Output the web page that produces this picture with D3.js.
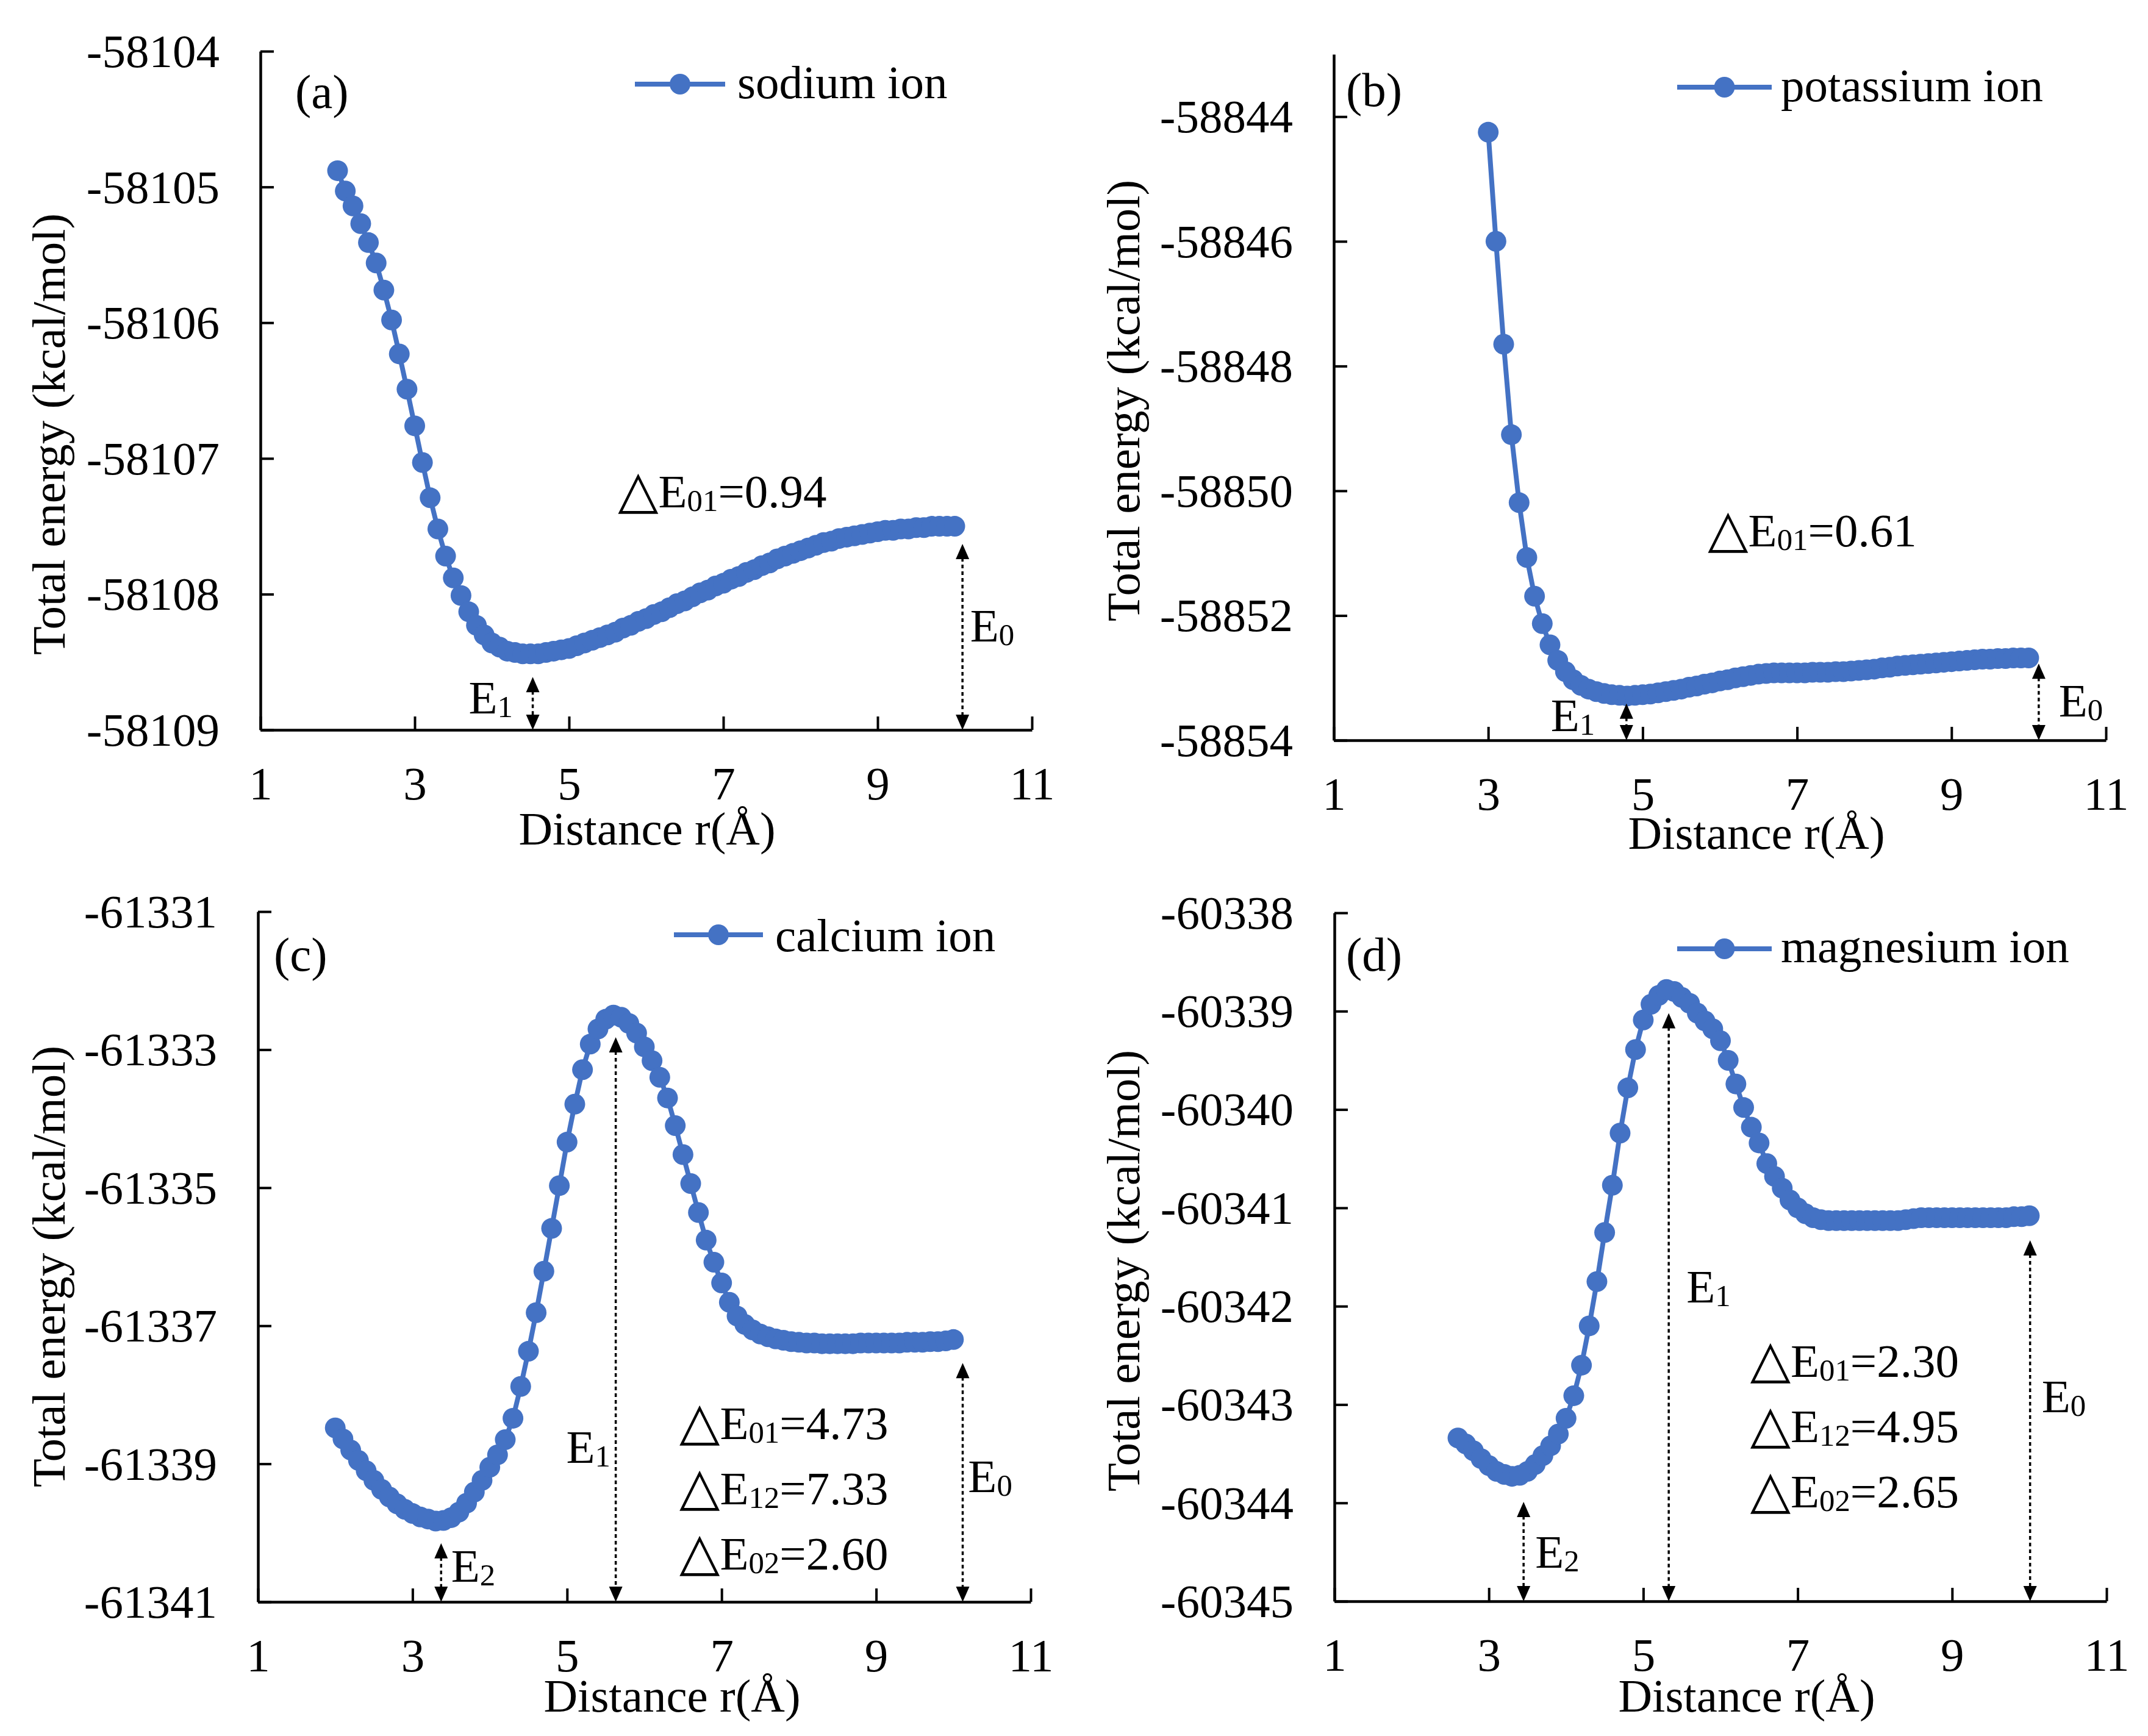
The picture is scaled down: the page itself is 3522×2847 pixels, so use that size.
<!DOCTYPE html>
<html><head><meta charset="utf-8">
<script src="https://cdn.jsdelivr.net/npm/d3@7"></script>
<style>body{margin:0;background:#fff}svg{display:block}</style>
</head><body>
<svg id="chart" width="3522" height="2847"></svg>
<script>
// ---------------- DATA ----------------
const xTickValues = [1, 3, 5, 7, 9, 11];

const sodiumR = [2.0,2.1,2.2,2.3,2.4,2.5,2.6,2.7,2.8,2.9,3.0,3.1,3.2,3.3,3.4,3.5,3.6,3.7,3.8,3.9,
  4.0,4.1,4.2,4.3,4.4,4.5,4.6,4.7,4.8,4.9,5.0,5.1,5.2,5.3,5.4,5.5,5.6,5.7,5.8,5.9,
  6.0,6.1,6.2,6.3,6.4,6.5,6.6,6.7,6.8,6.9,7.0,7.1,7.2,7.3,7.4,7.5,7.6,7.7,7.8,7.9,
  8.0,8.1,8.2,8.3,8.4,8.5,8.6,8.7,8.8,8.9,9.0,9.1,9.2,9.3,9.4,9.5,9.6,9.7,9.8,9.9,10.0];
const sodiumE = [-58104.88,-58105.03,-58105.14,-58105.27,-58105.41,-58105.56,-58105.76,-58105.98,-58106.23,-58106.49,
  -58106.76,-58107.03,-58107.29,-58107.52,-58107.72,-58107.88,-58108.01,-58108.13,-58108.23,-58108.30,
  -58108.36,-58108.39,-58108.42,-58108.43,-58108.44,-58108.44,-58108.44,-58108.43,-58108.42,-58108.41,
  -58108.40,-58108.38,-58108.36,-58108.34,-58108.32,-58108.30,-58108.28,-58108.25,-58108.23,-58108.20,
  -58108.18,-58108.15,-58108.13,-58108.10,-58108.07,-58108.05,-58108.02,-58107.99,-58107.97,-58107.94,
  -58107.92,-58107.89,-58107.87,-58107.84,-58107.82,-58107.79,-58107.77,-58107.74,-58107.72,-58107.70,
  -58107.68,-58107.66,-58107.64,-58107.62,-58107.61,-58107.59,-58107.58,-58107.57,-58107.56,-58107.55,
  -58107.54,-58107.53,-58107.53,-58107.52,-58107.52,-58107.51,-58107.51,-58107.50,-58107.50,-58107.50,-58107.50];

const potassiumR = [3.0,3.1,3.2,3.3,3.4,3.5,3.6,3.7,3.8,3.9,
  4.0,4.1,4.2,4.3,4.4,4.5,4.6,4.7,4.8,4.9,5.0,5.1,5.2,5.3,5.4,5.5,5.6,5.7,5.8,5.9,
  6.0,6.1,6.2,6.3,6.4,6.5,6.6,6.7,6.8,6.9,7.0,7.1,7.2,7.3,7.4,7.5,7.6,7.7,7.8,7.9,
  8.0,8.1,8.2,8.3,8.4,8.5,8.6,8.7,8.8,8.9,9.0,9.1,9.2,9.3,9.4,9.5,9.6,9.7,9.8,9.9,10.0];
const potassiumE = [-58844.25,-58846.00,-58847.65,-58849.10,-58850.19,-58851.07,-58851.69,-58852.13,-58852.47,-58852.72,
  -58852.90,-58853.03,-58853.12,-58853.18,-58853.22,-58853.25,-58853.27,-58853.28,-58853.29,-58853.28,
  -58853.27,-58853.26,-58853.24,-58853.22,-58853.20,-58853.18,-58853.15,-58853.13,-58853.10,-58853.08,
  -58853.05,-58853.03,-58853.00,-58852.98,-58852.96,-58852.94,-58852.93,-58852.92,-58852.92,-58852.92,
  -58852.92,-58852.92,-58852.91,-58852.91,-58852.91,-58852.90,-58852.90,-58852.89,-58852.88,-58852.87,
  -58852.86,-58852.84,-58852.83,-58852.81,-58852.80,-58852.79,-58852.78,-58852.77,-58852.76,-58852.75,
  -58852.74,-58852.73,-58852.72,-58852.71,-58852.70,-58852.70,-58852.69,-58852.69,-58852.68,-58852.68,-58852.68];

const calciumR = [2.0,2.1,2.2,2.3,2.4,2.5,2.6,2.7,2.8,2.9,3.0,3.1,3.2,3.3,3.4,3.5,3.6,3.7,3.8,3.9,
  4.0,4.1,4.2,4.3,4.4,4.5,4.6,4.7,4.8,4.9,5.0,5.1,5.2,5.3,5.4,5.5,5.6,5.7,5.8,5.9,
  6.0,6.1,6.2,6.3,6.4,6.5,6.6,6.7,6.8,6.9,7.0,7.1,7.2,7.3,7.4,7.5,7.6,7.7,7.8,7.9,
  8.0,8.1,8.2,8.3,8.4,8.5,8.6,8.7,8.8,8.9,9.0,9.1,9.2,9.3,9.4,9.5,9.6,9.7,9.8,9.9,10.0];
const calciumE = [-61338.48,-61338.64,-61338.80,-61338.95,-61339.10,-61339.24,-61339.37,-61339.48,-61339.58,-61339.66,
  -61339.72,-61339.77,-61339.80,-61339.83,-61339.82,-61339.78,-61339.70,-61339.57,-61339.41,-61339.24,
  -61339.05,-61338.87,-61338.65,-61338.34,-61337.88,-61337.37,-61336.81,-61336.21,-61335.59,-61334.97,
  -61334.34,-61333.79,-61333.29,-61332.92,-61332.70,-61332.56,-61332.50,-61332.53,-61332.62,-61332.76,
  -61332.96,-61333.16,-61333.40,-61333.70,-61334.10,-61334.52,-61334.94,-61335.36,-61335.76,-61336.08,
  -61336.38,-61336.66,-61336.86,-61336.98,-61337.06,-61337.12,-61337.16,-61337.19,-61337.21,-61337.23,
  -61337.24,-61337.25,-61337.25,-61337.26,-61337.26,-61337.26,-61337.26,-61337.26,-61337.25,-61337.25,
  -61337.25,-61337.25,-61337.25,-61337.25,-61337.24,-61337.24,-61337.24,-61337.23,-61337.23,-61337.22,-61337.20];

const magnesiumR = [2.6,2.7,2.8,2.9,3.0,3.1,3.2,3.3,3.4,3.5,3.6,3.7,3.8,3.9,
  4.0,4.1,4.2,4.3,4.4,4.5,4.6,4.7,4.8,4.9,5.0,5.1,5.2,5.3,5.4,5.5,5.6,5.7,5.8,5.9,
  6.0,6.1,6.2,6.3,6.4,6.5,6.6,6.7,6.8,6.9,7.0,7.1,7.2,7.3,7.4,7.5,7.6,7.7,7.8,7.9,
  8.0,8.1,8.2,8.3,8.4,8.5,8.6,8.7,8.8,8.9,9.0,9.1,9.2,9.3,9.4,9.5,9.6,9.7,9.8,9.9,10.0];
const magnesiumE = [-60343.34,-60343.40,-60343.47,-60343.55,-60343.62,-60343.68,-60343.71,-60343.73,-60343.72,-60343.68,
  -60343.61,-60343.52,-60343.42,-60343.30,-60343.14,-60342.91,-60342.60,-60342.20,-60341.75,-60341.25,
  -60340.77,-60340.24,-60339.78,-60339.39,-60339.09,-60338.93,-60338.84,-60338.78,-60338.80,-60338.86,
  -60338.92,-60339.02,-60339.10,-60339.18,-60339.30,-60339.50,-60339.74,-60339.98,-60340.18,-60340.34,
  -60340.55,-60340.68,-60340.80,-60340.92,-60341.00,-60341.06,-60341.10,-60341.12,-60341.13,-60341.13,
  -60341.13,-60341.13,-60341.13,-60341.13,-60341.13,-60341.13,-60341.13,-60341.13,-60341.12,-60341.11,
  -60341.10,-60341.10,-60341.10,-60341.10,-60341.10,-60341.10,-60341.10,-60341.10,-60341.10,-60341.10,
  -60341.10,-60341.10,-60341.09,-60341.09,-60341.08];

const yTicksA = [-58109,-58108,-58107,-58106,-58105,-58104];
const yTicksB = [-58854,-58852,-58850,-58848,-58846,-58844];
const yTicksC = [-61341,-61339,-61337,-61335,-61333,-61331];
const yTicksD = [-60345,-60344,-60343,-60342,-60341,-60340,-60339,-60338];

const seriesNames = ['sodium ion','potassium ion','calcium ion','magnesium ion'];
const panelLabels = ['(a)','(b)','(c)','(d)'];
const xTitle = 'Distance r(Å)';
const yTitle = 'Total energy (kcal/mol)';

// annotations (positions in data units)
const arrowsA = [{x:4.53, top:-58108.61, sub:'1', lx:3.70, ly:-58108.88},
                 {x:10.10, top:-58107.63, sub:'0', lx:10.20, ly:-58108.35}];
const arrowsB = [{x:4.79, top:-58853.41, sub:'1', lx:3.81, ly:-58853.85},
                 {x:10.13, top:-58852.77, sub:'0', lx:10.39, ly:-58853.62}];
const arrowsC = [{x:3.37, top:-61340.15, sub:'2', lx:3.50, ly:-61340.71},
                 {x:5.63, top:-61332.82, sub:'1', lx:4.99, ly:-61338.99},
                 {x:10.12, top:-61337.54, sub:'0', lx:10.19, ly:-61339.41}];
const arrowsD = [{x:3.45, top:-60343.99, sub:'2', lx:3.60, ly:-60344.66},
                 {x:5.33, top:-60339.02, sub:'1', lx:5.56, ly:-60341.96},
                 {x:10.01, top:-60341.33, sub:'0', lx:10.16, ly:-60343.08}];
const deltaA = {x:5.65, y:-58107.36, rows:[['01','0.94']]};
const deltaB = {x:5.86, y:-58850.89, rows:[['01','0.61']]};
const deltaC = {x:6.47, y:-61338.64, rows:[['01','4.73'],['12','7.33'],['02','2.60']]};
const deltaD = {x:6.40, y:-60342.72, rows:[['01','2.30'],['12','4.95'],['02','2.65']]};

// ---------------- LAYOUT ----------------
const BLUE = '#4472C4';
const FONT = '"Liberation Serif","Times New Roman",serif';
const FS = 77;

const panels = [
  {r:sodiumR, e:sodiumE, yTicks:yTicksA, yDom:[-58109,-58104], arrows:arrowsA, delta:deltaA,
   box:{l:427,r:1692,t:84,b:1197}, yTitle:{x:106,y:712}, xTitle:{x:1061,y:1385},
   leg:{x1:1041,x2:1189,y:138,tx:1209,ty:161}, lab:{x:484,y:177}},
  {r:potassiumR, e:potassiumE, yTicks:yTicksB, yDom:[-58854,-58843], arrows:arrowsB, delta:deltaB,
   box:{l:2187,r:3453,t:89,b:1214}, yTitle:{x:1868,y:657}, xTitle:{x:2880,y:1392},
   leg:{x1:2750,x2:2905,y:143,tx:2920,ty:166}, lab:{x:2207,y:174}},
  {r:calciumR, e:calciumE, yTicks:yTicksC, yDom:[-61341,-61331], arrows:arrowsC, delta:deltaC,
   box:{l:423,r:1690,t:1495,b:2627}, yTitle:{x:106,y:2077}, xTitle:{x:1102,y:2807},
   leg:{x1:1105,x2:1251,y:1533,tx:1271,ty:1560}, lab:{x:449,y:1592}},
  {r:magnesiumR, e:magnesiumE, yTicks:yTicksD, yDom:[-60345,-60338], arrows:arrowsD, delta:deltaD,
   box:{l:2188,r:3454,t:1497,b:2626}, yTitle:{x:1868,y:2084}, xTitle:{x:2864,y:2807},
   leg:{x1:2750,x2:2905,y:1556,tx:2920,ty:1578}, lab:{x:2207,y:1592}}
];

const svg = d3.select('#chart');
svg.append('rect').attr('width',3522).attr('height',2847).attr('fill','#fff');

function rich(g, x, y, parts, size) {
  const t = g.append('text').attr('x', x).attr('y', y)
    .attr('font-family', FONT).attr('font-size', size).attr('fill', '#000');
  let shifted = 0;
  parts.forEach(p => {
    const s = t.append('tspan').text(p.t);
    if (p.sub) { s.attr('font-size', size * 0.66).attr('dy', 6); shifted = 6; }
    else if (shifted) { s.attr('dy', -shifted); shifted = 0; }
    if (p.sym) s.attr('font-family', '"DejaVu Sans",sans-serif').attr('font-size', size * 1.12).attr('dx', -2);
  });
  return t;
}

function arrow(g, xp, yTop, yBot) {
  const hh = 25, hw = 11;
  g.append('line').attr('x1', xp).attr('x2', xp).attr('y1', yTop + hh - 2).attr('y2', yBot - hh + 2)
    .attr('stroke', '#000').attr('stroke-width', 3.5).attr('stroke-dasharray', '6,5');
  g.append('path').attr('d', `M${xp},${yTop}l${-hw},${hh}h${2*hw}z`).attr('fill', '#000');
  g.append('path').attr('d', `M${xp},${yBot}l${-hw},${-hh}h${2*hw}z`).attr('fill', '#000');
}

panels.forEach((p, i) => {
  const g = svg.append('g');
  const x = d3.scaleLinear().domain([1, 11]).range([p.box.l, p.box.r]);
  const y = d3.scaleLinear().domain(p.yDom).range([p.box.b, p.box.t]);

  // axes
  const xa = g.append('g').attr('transform', `translate(0,${p.box.b})`)
    .call(d3.axisBottom(x).tickValues(xTickValues).tickSizeInner(-22).tickSizeOuter(0).tickPadding(59)
      .tickFormat(d => String(d)));
  const ya = g.append('g').attr('transform', `translate(${p.box.l},0)`)
    .call(d3.axisLeft(y).tickValues(p.yTicks).tickSizeInner(-22).tickSizeOuter(0).tickPadding(67)
      .tickFormat(d => String(d)));
  [xa, ya].forEach(a => {
    a.attr('font-family', FONT).attr('font-size', FS);
    a.select('.domain').attr('stroke', '#000').attr('stroke-width', 4.5);
    a.selectAll('.tick line').attr('stroke', '#000').attr('stroke-width', 4);
    a.selectAll('.tick text').attr('fill', '#000');
  });
  ya.selectAll('.tick text').attr('dy', '0.33em');

  // titles
  g.append('text').attr('x', p.xTitle.x).attr('y', p.xTitle.y).attr('text-anchor', 'middle')
    .attr('font-family', FONT).attr('font-size', FS).text(xTitle);
  g.append('text').attr('transform', `translate(${p.yTitle.x},${p.yTitle.y}) rotate(-90)`)
    .attr('text-anchor', 'middle').attr('font-family', FONT).attr('font-size', FS).text(yTitle);

  // series
  const pts = p.r.map((r, k) => [r, p.e[k]]);
  g.append('path').datum(pts)
    .attr('d', d3.line().x(d => x(d[0])).y(d => y(d[1])))
    .attr('fill', 'none').attr('stroke', BLUE).attr('stroke-width', 8).attr('stroke-linejoin', 'round');
  g.append('g').selectAll('circle').data(pts).join('circle')
    .attr('cx', d => x(d[0])).attr('cy', d => y(d[1])).attr('r', 17).attr('fill', BLUE);

  // legend
  g.append('line').attr('x1', p.leg.x1).attr('x2', p.leg.x2).attr('y1', p.leg.y).attr('y2', p.leg.y)
    .attr('stroke', BLUE).attr('stroke-width', 8);
  g.append('circle').attr('cx', (p.leg.x1 + p.leg.x2) / 2).attr('cy', p.leg.y).attr('r', 17).attr('fill', BLUE);
  g.append('text').attr('x', p.leg.tx).attr('y', p.leg.ty).attr('font-family', FONT).attr('font-size', FS)
    .text(seriesNames[i]);

  // panel label
  g.append('text').attr('x', p.lab.x).attr('y', p.lab.y).attr('font-family', FONT).attr('font-size', FS + 2)
    .text(panelLabels[i]);

  // arrows and labels
  p.arrows.forEach(a => {
    arrow(g, x(a.x), y(a.top), y(p.yDom[0]));
    rich(g, x(a.lx), y(a.ly), [{t:'E'}, {t:a.sub, sub:true}], FS);
  });

  // delta texts
  p.delta.rows.forEach((row, k) => {
    rich(g, x(p.delta.x), y(p.delta.y) + k * 107,
      [{t:'△', sym:true}, {t:'E'}, {t:row[0], sub:true}, {t:'=' + row[1]}], FS);
  });
});
</script>
</body></html>
